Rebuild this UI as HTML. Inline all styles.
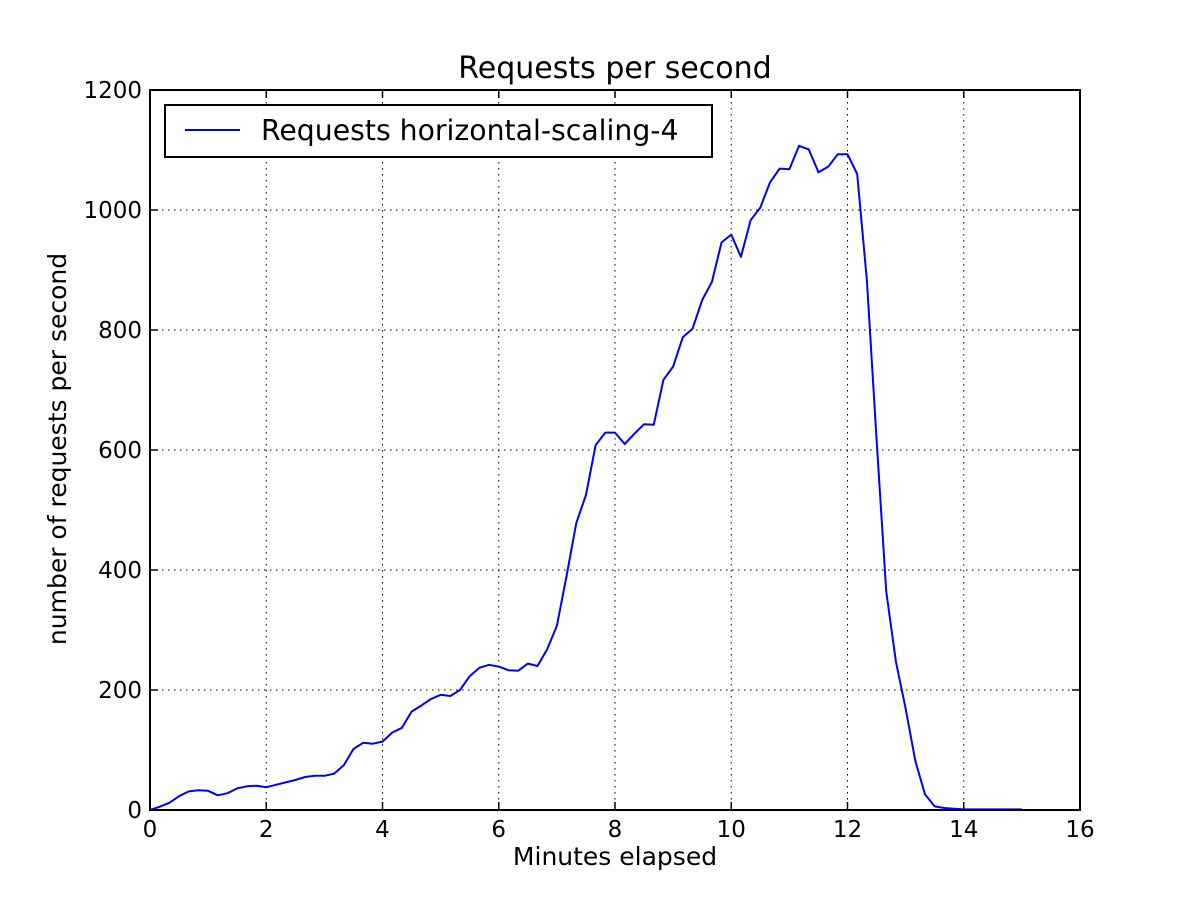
<!DOCTYPE html>
<html><head><meta charset="utf-8"><style>
html,body{margin:0;padding:0;background:#fff;}
svg{display:block;font-family:"DejaVu Sans","Liberation Sans",sans-serif;}
</style></head><body>
<svg id="chart" width="1200" height="900" viewBox="0 0 1200 900">
<rect x="0" y="0" width="1200" height="900" fill="#fff"/>
<text x="615" y="78" text-anchor="middle" font-size="30">Requests per second</text>
<g id="grid"></g>
<g id="series"></g>
<rect x="150" y="90" width="930" height="720" fill="none" stroke="#000" stroke-width="2"/>
<g id="ticks"></g>
<text x="615" y="865" text-anchor="middle" font-size="25">Minutes elapsed</text>
<text x="0" y="0" transform="translate(66,449) rotate(-90)" text-anchor="middle" font-size="25">number of requests per second</text>
<g>
<rect x="165" y="105" width="547" height="52" fill="#fff" stroke="#000" stroke-width="2"/>
<line x1="185" y1="130" x2="240" y2="130" stroke="#0000ff" stroke-width="2"/>
<text x="261" y="140" font-size="28.3">Requests horizontal-scaling-4</text>
</g>
</svg>
<script>
const xTicks = [0,2,4,6,8,10,12,14,16];
const yTicks = [0,200,400,600,800,1000,1200];
const stepMinutes = 1/6;
const requests = [0,5.5,12,23,31,33,32,24.5,28,36,39.5,40.5,38,42,46,50,55,57,57,60.5,74.5,101.7,112,110.5,114,129,137,164,174,185,192,190,200,223,237,242,239,233,232,244,240,268,307,390,478,525,608,629,629,610,627,643,642,717,739,788,802,850,880,946,959,922,983,1004,1046,1069,1068,1107,1101,1063,1072,1093,1093,1060,883,618,364,247,169,82,26,6,3.3,2,1,1,1,1,1,1,1];

const X0=150,X1=1080,Y0=810,Y1=90;
const sx=v=>X0+(v-0)/(16-0)*(X1-X0);
const sy=v=>Y0-(v-0)/(1200-0)*(Y0-Y1);
const NS="http://www.w3.org/2000/svg";
const grid=document.getElementById('grid'),ticks=document.getElementById('ticks'),series=document.getElementById('series');
function mk(tag,attrs,parent){const e=document.createElementNS(NS,tag);for(const k in attrs)e.setAttribute(k,attrs[k]);parent.appendChild(e);return e;}

xTicks.forEach(t=>{
  const x=sx(t);
  if(t>0&&t<16){
    const g=mk('line',{x1:x,y1:Y1,x2:x,y2:Y0,stroke:'#000','stroke-width':1,'stroke-dasharray':'1.5,4.5'},grid);
    
    
  }
  const a=mk('line',{x1:x,y1:Y0,x2:x,y2:Y0-8,stroke:'#000','stroke-width':1.5},ticks);
  
  
  const b=mk('line',{x1:x,y1:Y1,x2:x,y2:Y1+8,stroke:'#000','stroke-width':1.5},ticks);
  
  
  const l=mk('text',{x:x,y:Y0+27,'text-anchor':'middle','font-size':23},ticks);
  l.textContent=t;
  
  
});
yTicks.forEach(t=>{
  const y=sy(t);
  if(t>0&&t<1200){
    const g=mk('line',{x1:X0,y1:y,x2:X1,y2:y,stroke:'#000','stroke-width':1,'stroke-dasharray':'1.5,4.5'},grid);
    
    
  }
  const a=mk('line',{x1:X0,y1:y,x2:X0+8,y2:y,stroke:'#000','stroke-width':1.5},ticks);
  
  
  const b=mk('line',{x1:X1,y1:y,x2:X1-8,y2:y,stroke:'#000','stroke-width':1.5},ticks);
  
  
  const l=mk('text',{x:X0-8,y:y+8,'text-anchor':'end','font-size':23},ticks);
  l.textContent=t;
  
  
});
const pts=requests.map((v,i)=>sx(i*stepMinutes).toFixed(2)+','+sy(v).toFixed(2)).join(' ');
const line=mk('polyline',{points:pts,fill:'none',stroke:'#0000ff','stroke-width':2,'stroke-linejoin':'round'},series);


</script>
</body></html>
